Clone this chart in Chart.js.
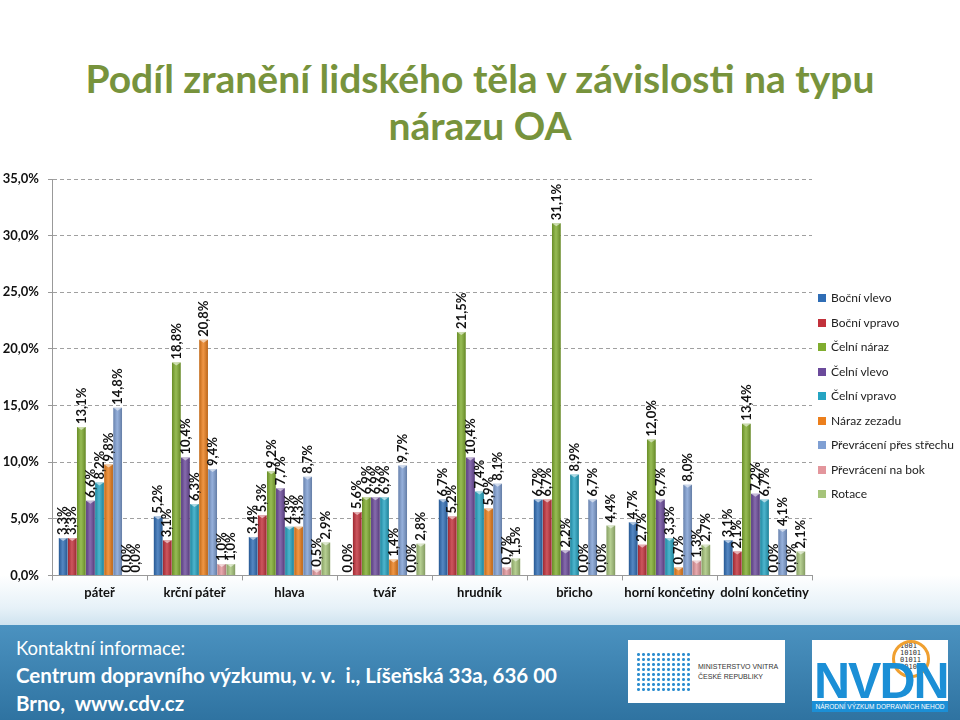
<!DOCTYPE html>
<html lang="cs">
<head>
<meta charset="utf-8">
<title>Podíl zranění lidského těla</title>
<script src="https://cdn.jsdelivr.net/npm/chart.js@4/dist/chart.umd.min.js"></script>
<style>
  html, body { margin: 0; padding: 0; }
  body {
    width: 960px; height: 720px; position: relative; overflow: hidden;
    font-family: Lato, "Open Sans", sans-serif;
    background: linear-gradient(to bottom, #ffffff 0px, #ffffff 575px, #e6f1f8 608px, #cfe3ef 625px);
  }
  #title {
    position: absolute; left: 0; top: 55px; width: 960px; text-align: center;
    color: #77933c; font-weight: bold; font-size: 39px; line-height: 47px;
  }
  #chartBox { position: absolute; left: 0; top: 160px; width: 960px; height: 450px; }
  #legend { position: absolute; left: 818px; top: 290px; font-size: 12px; color: #222; }
  #legend div { height: 24.5px; line-height: 16px; white-space: nowrap; }
  #legend span { display: inline-block; width: 8px; height: 8px; margin-right: 5px; vertical-align: 0px; }
  #footer {
    position: absolute; left: 0; top: 625px; width: 960px; height: 95px;
    background: linear-gradient(to bottom, #4b92c0, #2f73a1);
    color: #fff;
  }
  #footer .l1 { position: absolute; left: 16px; top: 12px; font-size: 18.5px; }
  #footer .l2 { position: absolute; left: 16px; top: 38px; font-size: 20.5px; font-weight: bold; }
  #footer .l3 { position: absolute; left: 16px; top: 66px; font-size: 20.5px; font-weight: bold; }
  .logo1 { position: absolute; left: 628px; top: 15px; width: 157px; height: 63px; background: #fff; }
  .logo1 .txt { position: absolute; left: 70px; top: 22px; font-size: 7px; color: #333; line-height: 10px; white-space: nowrap; font-family: "Liberation Sans", sans-serif; }
  .logo1 .dots { position: absolute; left: 8px; top: 12px; width: 56px; height: 40px;
    background-image: radial-gradient(circle, #2f8fd0 1.3px, transparent 1.6px); background-size: 5px 5px; }
  .logo2 { position: absolute; left: 812px; top: 15px; width: 136px; height: 72px; background: #fff; overflow: hidden; }
  .logo2 .big { position: absolute; left: 2px; top: 12px; font-size: 50px; font-weight: bold; color: #1b8fd6; letter-spacing: -2px; font-family: "Liberation Sans", sans-serif; }
  .logo2 .bin { position: absolute; left: 88px; top: 3px; font-size: 7px; line-height: 7px; color: #333; font-family: "DejaVu Sans Mono", monospace; }
  .logo2 .ring { position: absolute; left: 80px; top: 0px; width: 32px; height: 32px; border: 3px solid #f0a030; border-radius: 50%; }
  .logo2 .sub { position: absolute; left: 0; bottom: 0; width: 136px; height: 11px; background: #1b8fd6; color: #fff; font-size: 6.5px; line-height: 11px; text-align: center; white-space: nowrap; font-family: "Liberation Sans", sans-serif; }
</style>
</head>
<body>
<div id="title">Podíl zranění lidského těla v závislosti na typu<br>nárazu OA</div>
<div id="chartBox"><canvas id="chart" width="960" height="450"></canvas></div>
<div id="legend"></div>
<div id="footer">
  <div class="l1">Kontaktní informace:</div>
  <div class="l2">Centrum dopravního výzkumu, v. v.&nbsp; i., Líšeňská 33a, 636 00</div>
  <div class="l3">Brno,&nbsp; www.cdv.cz</div>
  <div class="logo1"><div class="dots"></div><div class="txt">MINISTERSTVO VNITRA<br>ČESKÉ REPUBLIKY</div></div>
  <div class="logo2"><div class="bin">1001<br>10101<br>01011<br>00100</div><div class="ring"></div><div class="big">NVDN</div><div class="sub">NÁRODNÍ VÝZKUM DOPRAVNÍCH NEHOD</div></div>
</div>
<script>
const categories = ['páteř', 'krční páteř', 'hlava', 'tvář', 'hrudník', 'břicho', 'horní končetiny', 'dolní končetiny'];

const seriesNames = ['Boční vlevo', 'Boční vpravo', 'Čelní náraz', 'Čelní vlevo', 'Čelní vpravo',
    'Náraz zezadu', 'Převrácení přes střechu', 'Převrácení na bok', 'Rotace'];
const seriesColors = ['#2f6db5', '#c2313b', '#80ad2f', '#6b4a9b', '#25a4c2',
    '#ec7f1c', '#7f9fd3', '#e3969c', '#a6c47a'];

// one array per series, values in % for each body part
const bocniVlevo    = [3.3, 5.2, 3.4, 0.0, 6.7, 6.7, 4.7, 3.1];
const bocniVpravo   = [3.3, 3.1, 5.3, 5.6, 5.2, 6.7, 2.7, 2.1];
const celniNaraz    = [13.1, 18.8, 9.2, 6.9, 21.5, 31.1, 12.0, 13.4];
const celniVlevo    = [6.6, 10.4, 7.7, 6.9, 10.4, 2.2, 6.7, 7.2];
const celniVpravo   = [8.2, 6.3, 4.3, 6.9, 7.4, 8.9, 3.3, 6.7];
const narazZezadu   = [9.8, 20.8, 4.3, 1.4, 5.9, 0.0, 0.7, 0.0];
const prevStrecha   = [14.8, 9.4, 8.7, 9.7, 8.1, 6.7, 8.0, 4.1];
const prevBok       = [0.0, 1.0, 0.5, 0.0, 0.7, 0.0, 1.3, 0.0];
const rotace        = [0.0, 1.0, 2.9, 2.8, 1.5, 4.4, 2.7, 2.1];

const seriesValues = [bocniVlevo, bocniVpravo, celniNaraz, celniVlevo, celniVpravo,
    narazZezadu, prevStrecha, prevBok, rotace];

const yTickLabels = ['0,0%', '5,0%', '10,0%', '15,0%', '20,0%', '25,0%', '30,0%', '35,0%'];

const fmt = v => v.toFixed(1).replace('.', ',') + '%';

// legend as plain html
const legendEl = document.getElementById('legend');
seriesNames.forEach((name, i) => {
    const row = document.createElement('div');
    row.innerHTML = `<span style="background:${seriesColors[i]}"></span>${name}`;
    legendEl.appendChild(row);
});

// cylinder-ish shading over each bar
const barShade = {
    id: 'barShade',
    afterDatasetsDraw(chart) {
        const ctx = chart.ctx;
        chart.data.datasets.forEach((ds, di) => {
            chart.getDatasetMeta(di).data.forEach(bar => {
                const w = bar.width, left = bar.x - w / 2, h = bar.base - bar.y;
                if (h <= 0) return;
                const g = ctx.createLinearGradient(left, 0, left + w, 0);
                g.addColorStop(0, 'rgba(0,0,0,0.18)');
                g.addColorStop(0.45, 'rgba(255,255,255,0.18)');
                g.addColorStop(1, 'rgba(0,0,0,0.22)');
                ctx.save();
                ctx.fillStyle = g;
                ctx.fillRect(left, bar.y, w, h);
                // light cap
                ctx.fillStyle = 'rgba(255,255,255,0.55)';
                ctx.beginPath();
                ctx.moveTo(left, bar.y);
                ctx.lineTo(left + w, bar.y);
                ctx.lineTo(bar.x, bar.y + Math.min(3, h));
                ctx.closePath();
                ctx.fill();
                ctx.restore();
            });
        });
    }
};

// rotated value labels
const valueLabels = {
    id: 'valueLabels',
    afterDatasetsDraw(chart) {
        const ctx = chart.ctx;
        ctx.save();
        ctx.font = 'bold 13px Lato, "Open Sans", sans-serif';
        ctx.fillStyle = '#111';
        ctx.textAlign = 'left';
        ctx.textBaseline = 'middle';
        chart.data.datasets.forEach((ds, di) => {
            chart.getDatasetMeta(di).data.forEach((bar, i) => {
                ctx.save();
                ctx.translate(bar.x, bar.y - 3);
                ctx.rotate(-Math.PI / 2);
                ctx.fillText(fmt(ds.data[i]), 0, 0);
                ctx.restore();
            });
        });
        ctx.restore();
    }
};

new Chart(document.getElementById('chart'), {
    type: 'bar',
    data: {
        labels: categories,
        datasets: seriesNames.map((name, i) => ({
            label: name,
            data: seriesValues[i],
            backgroundColor: seriesColors[i],
            borderWidth: 0,
            categoryPercentage: 0.86,
            barPercentage: 0.96
        }))
    },
    options: {
        responsive: false,
        animation: false,
        layout: { padding: { top: 19, right: 148, bottom: 4, left: 0 } },
        plugins: {
            legend: { display: false },
            tooltip: { enabled: false }
        },
        scales: {
            x: {
                grid: { drawOnChartArea: false, drawTicks: true, tickLength: 5, offset: true, color: '#999' },
                border: { color: '#999' },
                ticks: {
                    padding: 5,
                    maxRotation: 0,
                    minRotation: 0,
                    autoSkip: false,
                    color: '#111',
                    font: { family: 'Lato, "Open Sans", sans-serif', size: 13, weight: 'bold' }
                }
            },
            y: {
                min: 0,
                max: 35,
                afterFit: axis => { axis.width = 52; },
                grid: { color: '#a0a0a0', tickLength: 4, tickColor: '#999', tickBorderDash: [] },
                border: { color: '#999', dash: [4, 3] },
                ticks: {
                    stepSize: 5,
                    padding: 9,
                    color: '#111',
                    font: { family: 'Lato, "Open Sans", sans-serif', size: 13, weight: 'bold' },
                    callback: (v, i) => yTickLabels[i]
                }
            }
        }
    },
    plugins: [barShade, valueLabels]
});
</script>
</body>
</html>
